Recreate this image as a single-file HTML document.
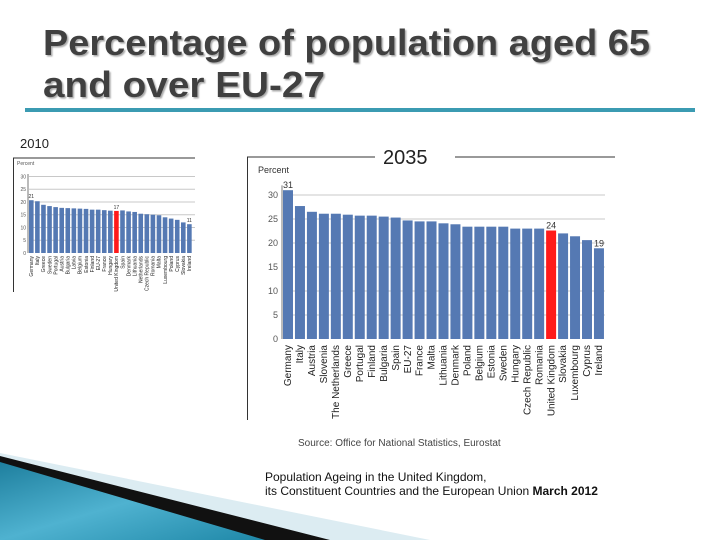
<!DOCTYPE html>
<html><head><meta charset="utf-8"><style>
body{margin:0;width:720px;height:540px;background:#fff;overflow:hidden;font-family:"Liberation Sans",sans-serif}
svg{position:absolute;left:0;top:0}
</style></head><body>
<svg width="720" height="540">
  <defs>
    <linearGradient id="tg" x1="0" y1="0" x2="1" y2="1">
      <stop offset="0" stop-color="#1e7f9e"/><stop offset="0.5" stop-color="#4fb2d0"/><stop offset="1" stop-color="#1f88a8"/>
    </linearGradient>
    <filter id="sh"><feDropShadow dx="1.5" dy="1.5" stdDeviation="0.8" flood-color="#aaa"/></filter>
  </defs>
  <g filter="url(#sh)" fill="#404040" font-weight="bold" font-size="36">
    <text x="43" y="55" textLength="607" lengthAdjust="spacingAndGlyphs">Percentage of population aged 65</text>
    <text x="43" y="97" textLength="282" lengthAdjust="spacingAndGlyphs">and over EU-27</text>
  </g>
  <rect x="25" y="108" width="670" height="4" fill="#3b9bb2"/>

  <g>
    <polygon points="0,453 430,540 0,540" fill="#dcecf2"/>
    <polygon points="0,456 330,540 0,540" fill="#111"/>
    <polygon points="0,462 265,540 0,540" fill="url(#tg)"/>
  </g>

  <text x="298" y="446" font-size="10" fill="#444">Source: Office for National Statistics, Eurostat</text>
  <text x="265" y="481" font-size="12" fill="#111">Population Ageing in the United Kingdom,</text>
  <text x="265" y="495" font-size="12" fill="#111">its Constituent Countries and the European Union <tspan font-weight="bold">March 2012</tspan></text>

  <!-- 2010 chart -->
  <g>
    <text x="20" y="148" font-size="13" fill="#222">2010</text>
    <line x1="13" y1="158" x2="195" y2="158" stroke="#333" stroke-width="1"/>
    <line x1="13.5" y1="158" x2="13.5" y2="292" stroke="#333" stroke-width="1"/>
    <text x="17" y="165" font-size="5" fill="#555">Percent</text>
    <g id="c10"></g>
  </g>

  <!-- 2035 chart -->
  <g>
    <line x1="247" y1="157" x2="375" y2="157" stroke="#333" stroke-width="1"/>
    <line x1="455" y1="157" x2="615" y2="157" stroke="#333" stroke-width="1"/>
    <line x1="247.5" y1="157" x2="247.5" y2="420" stroke="#333" stroke-width="1"/>
    <text x="383" y="164" font-size="20" fill="#222">2035</text>
    <text x="258" y="173" font-size="9" fill="#333">Percent</text>
    <g id="c35"></g>
  </g>
</svg>
<script>
const NS='http://www.w3.org/2000/svg';
const cats35=["Germany","Italy","Austria","Slovenia","The Netherlands","Greece","Portugal","Finland","Bulgaria","Spain","EU-27","France","Malta","Lithuania","Denmark","Poland","Belgium","Estonia","Sweden","Hungary","Czech Republic","Romania","United Kingdom","Slovakia","Luxembourg","Cyprus","Ireland"];
const vals35=[31,27.7,26.5,26.1,26.1,25.9,25.7,25.7,25.5,25.3,24.7,24.5,24.5,24.1,23.9,23.4,23.4,23.4,23.4,23.0,23.0,23.0,22.6,22.0,21.4,20.6,18.9];
const ticks35=[0,5,10,15,20,25,30];
const labels35={0:"31",22:"24",26:"19"};
const cats10=["Germany","Italy","Greece","Sweden","Portugal","Austria","Bulgaria","Latvia","Belgium","Estonia","Finland","EU-27","France","Hungary","United Kingdom","Spain","Denmark","Lithuania","Netherlands","Czech Republic","Romania","Malta","Luxembourg","Poland","Cyprus","Slovakia","Ireland"];
const vals10=[20.7,20.3,18.9,18.4,18.0,17.7,17.6,17.5,17.4,17.3,17.0,17.0,16.8,16.6,16.5,16.7,16.3,16.1,15.4,15.2,15.0,14.8,14.0,13.5,13.0,12.0,11.3];
const ticks10=[0,5,10,15,20,25,30];
const labels10={0:"21",14:"17",26:"11"};

function el(tag,attrs,parent){const e=document.createElementNS(NS,tag);for(const k in attrs)e.setAttribute(k,attrs[k]);parent.appendChild(e);return e;}

function draw(gid,cats,vals,ticks,labels,o,prefix){
  const g=document.getElementById(gid);
  const y=v=>o.y0-v*o.k;
  const x=i=>o.x0+i*o.pitch;
  ticks.forEach(t=>{
    if(t>0&&t<=o.gridMax){const l=el('line',{x1:o.x0,x2:o.x1,y1:y(t),y2:y(t),stroke:'#c8c8c8','stroke-width':1},g);
    
    }
    const tx=el('text',{x:o.x0-o.tg,y:y(t)+o.fs*0.35,'font-size':o.fs,'text-anchor':'end',fill:'#555'},g);
    tx.textContent=t;
    
    
  });
  const ax=el('line',{x1:o.x0-1,x2:o.x0-1,y1:y(o.axTop),y2:o.y0,stroke:'#777','stroke-width':1},g);
  
  
  vals.forEach((v,i)=>{
    const uk=cats[i]==="United Kingdom";
    const r=el('rect',{x:x(i),y:y(v),width:o.bw,height:v*o.k,fill:uk?'#ff1a1a':'#5579b3'},g);
    
    
    if(labels[i]){const t=el('text',{x:x(i)+o.bw/2,y:y(v)-2,'font-size':o.fs,'text-anchor':'middle',fill:'#333'},g);
      t.textContent=labels[i];
      
      }
    const cx=x(i)+o.bw/2+o.fs*0.35, cy=o.y0+o.lg;
    const lt=el('text',{x:cx,y:cy,'font-size':o.lfs,'text-anchor':'end',fill:'#222',transform:`rotate(-90 ${cx} ${cy})`},g);
    lt.textContent=cats[i];
    
    
  });
}
draw('c35',cats35,vals35,ticks35,labels35,{x0:283,x1:605,y0:339,k:4.8,pitch:11.96,bw:10,fs:9,lfs:10,tg:5,lg:6,gridMax:30,axTop:32},'bar-2035');
draw('c10',cats10,vals10,ticks10,labels10,{x0:29,x1:195,y0:253,k:2.55,pitch:6.08,bw:4.6,fs:5,lfs:5,tg:3,lg:3,gridMax:30,axTop:31},'bar-2010');
</script>
</body></html>
